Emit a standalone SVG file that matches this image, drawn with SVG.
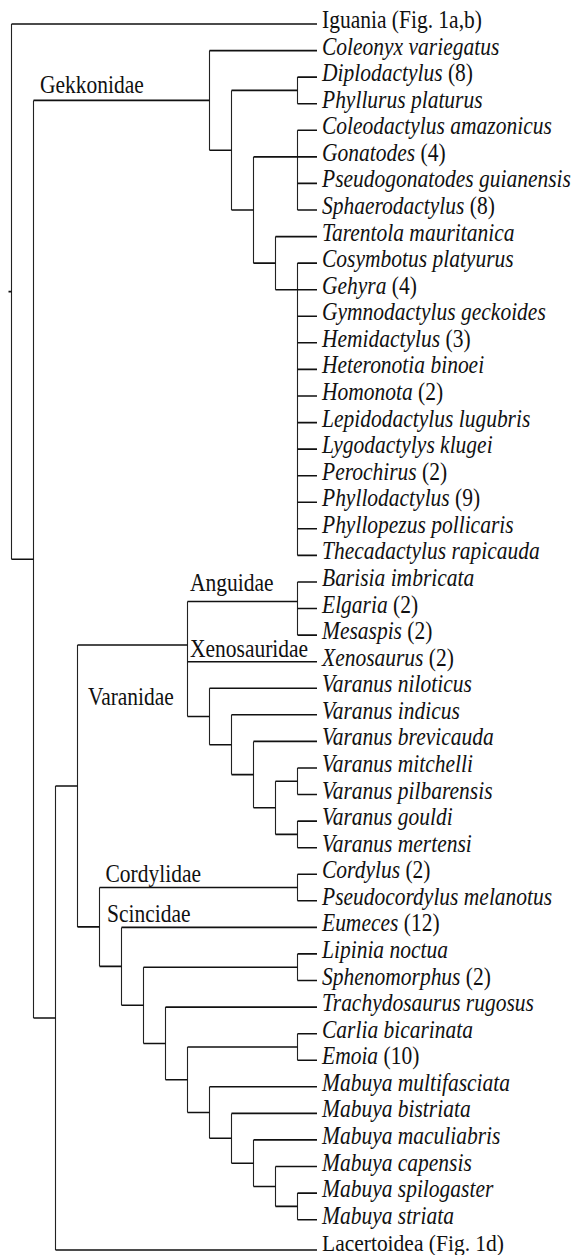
<svg xmlns="http://www.w3.org/2000/svg" width="574" height="1255" viewBox="0 0 574 1255">
<style>
.h{stroke:#111;stroke-width:1.6;fill:none}
.v{stroke:#222;stroke-width:1.1;fill:none}
text{font-family:"Liberation Serif","Times New Roman",serif;font-size:21.5px;fill:#111}
.sp{font-style:italic}
.n{font-style:normal}
</style>
<rect width="574" height="1255" fill="#fff"/>
<g id="connectors">
<path class="v" d="M11.5,24V559.2 M33.5,100.4V1018 M209.5,50.6V150.2 M231.5,90.4V210 M297.5,77.1V103.7 M253.5,156.9V263.15 M297.5,130.3V210 M275.5,236.6V289.7 M297.5,263.1V555.4 M55.5,786V1250 M77.5,645V926.9 M187.5,601.5V716.5 M297.5,582V635.1 M209.5,688.3V744.7 M231.5,714.8V774.6 M253.5,741.4V807.8 M275.5,781.25V834.4 M297.5,768V794.5 M297.5,821.1V847.7 M99.5,887.5V966.35 M297.5,874.2V900.8 M121.5,927.4V1005.3 M143.5,967.2V1043.45 M297.5,953.9V980.5 M165.5,1007.1V1079.8 M187.5,1047V1112.55 M297.5,1033.7V1060.2 M209.5,1086.8V1138.3 M231.5,1113.4V1163.2 M253.5,1139.9V1186.45 M275.5,1166.5V1206.4 M297.5,1193.1V1219.7"/>
<path class="h" d="M8.5,291.6H11.5 M11.5,24H317 M11.5,559.2H33.5 M33.5,100.4H209.5 M33.5,1018H55.5 M209.5,50.6H317 M209.5,150.2H231.5 M231.5,90.4H297.5 M231.5,210H253.5 M297.5,77.1H317 M297.5,103.7H317 M253.5,156.9H317 M253.5,263.15H275.5 M297.5,130.3H317 M297.5,183.4H317 M297.5,210H317 M275.5,236.6H317 M275.5,289.7H317 M297.5,263.1H317 M297.5,316.3H317 M297.5,342.8H317 M297.5,369.4H317 M297.5,396H317 M297.5,422.6H317 M297.5,449.1H317 M297.5,475.7H317 M297.5,502.3H317 M297.5,528.8H317 M297.5,555.4H317 M55.5,786H77.5 M55.5,1250H317 M77.5,645H187.5 M77.5,926.9H99.5 M187.5,601.5H297.5 M187.5,661.7H317 M187.5,716.5H209.5 M297.5,582H317 M297.5,608.5H317 M297.5,635.1H317 M209.5,688.3H317 M209.5,744.7H231.5 M231.5,714.8H317 M231.5,774.6H253.5 M253.5,741.4H317 M253.5,807.8H275.5 M275.5,781.25H297.5 M275.5,834.4H297.5 M297.5,768H317 M297.5,794.5H317 M297.5,821.1H317 M297.5,847.7H317 M99.5,887.5H297.5 M99.5,966.35H121.5 M297.5,874.2H317 M297.5,900.8H317 M121.5,927.4H317 M121.5,1005.3H143.5 M143.5,967.2H297.5 M143.5,1043.45H165.5 M297.5,953.9H317 M297.5,980.5H317 M165.5,1007.1H317 M165.5,1079.8H187.5 M187.5,1047H297.5 M187.5,1112.55H209.5 M297.5,1033.7H317 M297.5,1060.2H317 M209.5,1086.8H317 M209.5,1138.3H231.5 M231.5,1113.4H317 M231.5,1163.2H253.5 M253.5,1139.9H317 M253.5,1186.45H275.5 M275.5,1166.5H317 M275.5,1206.4H297.5 M297.5,1193.1H317 M297.5,1219.7H317"/>
</g>
<g id="clade-labels">
<g id="lbl-gekkonidae"><text transform="translate(40 93) scale(1 1.15)">Gekkonidae</text></g>
<g id="lbl-anguidae"><text transform="translate(190 591) scale(1 1.15)">Anguidae</text></g>
<g id="lbl-xenosauridae"><text transform="translate(190 657) scale(1 1.15)">Xenosauridae</text></g>
<g id="lbl-varanidae"><text transform="translate(88 705) scale(1 1.15)">Varanidae</text></g>
<g id="lbl-cordylidae"><text transform="translate(105.5 881.5) scale(1 1.15)">Cordylidae</text></g>
<g id="lbl-scincidae"><text transform="translate(107 922) scale(1 1.15)">Scincidae</text></g>
</g>
<g id="leaves">
<g id="leaf-iguania"><text transform="translate(322 28) scale(1 1.15)">Iguania (Fig. 1a,b)</text></g>
<g id="leaf-coleonyx"><text class="sp" transform="translate(322 54.6) scale(1 1.15)">Coleonyx variegatus</text></g>
<g id="leaf-diplodactylus"><text transform="translate(322 81.1) scale(1 1.15)"><tspan class="sp">Diplodactylus</tspan> (8)</text></g>
<g id="leaf-phyllurus"><text class="sp" transform="translate(322 107.7) scale(1 1.15)">Phyllurus platurus</text></g>
<g id="leaf-coleodactylus"><text class="sp" transform="translate(322 134.3) scale(1 1.15)">Coleodactylus amazonicus</text></g>
<g id="leaf-gonatodes"><text transform="translate(322 160.9) scale(1 1.15)"><tspan class="sp">Gonatodes</tspan> (4)</text></g>
<g id="leaf-pseudogonatodes"><text class="sp" transform="translate(322 187.4) scale(1 1.15)">Pseudogonatodes guianensis</text></g>
<g id="leaf-sphaerodactylus"><text transform="translate(322 214) scale(1 1.15)"><tspan class="sp">Sphaerodactylus</tspan> (8)</text></g>
<g id="leaf-tarentola"><text class="sp" transform="translate(322 240.6) scale(1 1.15)">Tarentola mauritanica</text></g>
<g id="leaf-cosymbotus"><text class="sp" transform="translate(322 267.1) scale(1 1.15)">Cosymbotus platyurus</text></g>
<g id="leaf-gehyra"><text transform="translate(322 293.7) scale(1 1.15)"><tspan class="sp">Gehyra</tspan> (4)</text></g>
<g id="leaf-gymnodactylus"><text class="sp" transform="translate(322 320.3) scale(1 1.15)">Gymnodactylus geckoides</text></g>
<g id="leaf-hemidactylus"><text transform="translate(322 346.8) scale(1 1.15)"><tspan class="sp">Hemidactylus</tspan> (3)</text></g>
<g id="leaf-heteronotia"><text class="sp" transform="translate(322 373.4) scale(1 1.15)">Heteronotia binoei</text></g>
<g id="leaf-homonota"><text transform="translate(322 400) scale(1 1.15)"><tspan class="sp">Homonota</tspan> (2)</text></g>
<g id="leaf-lepidodactylus"><text class="sp" transform="translate(322 426.6) scale(1 1.15)">Lepidodactylus lugubris</text></g>
<g id="leaf-lygodactylys"><text class="sp" transform="translate(322 453.1) scale(1 1.15)">Lygodactylys klugei</text></g>
<g id="leaf-perochirus"><text transform="translate(322 479.7) scale(1 1.15)"><tspan class="sp">Perochirus</tspan> (2)</text></g>
<g id="leaf-phyllodactylus"><text transform="translate(322 506.3) scale(1 1.15)"><tspan class="sp">Phyllodactylus</tspan> (9)</text></g>
<g id="leaf-phyllopezus"><text class="sp" transform="translate(322 532.8) scale(1 1.15)">Phyllopezus pollicaris</text></g>
<g id="leaf-thecadactylus"><text class="sp" transform="translate(322 559.4) scale(1 1.15)">Thecadactylus rapicauda</text></g>
<g id="leaf-barisia"><text class="sp" transform="translate(322 586) scale(1 1.15)">Barisia imbricata</text></g>
<g id="leaf-elgaria"><text transform="translate(322 612.5) scale(1 1.15)"><tspan class="sp">Elgaria</tspan> (2)</text></g>
<g id="leaf-mesaspis"><text transform="translate(322 639.1) scale(1 1.15)"><tspan class="sp">Mesaspis</tspan> (2)</text></g>
<g id="leaf-xenosaurus"><text transform="translate(322 665.7) scale(1 1.15)"><tspan class="sp">Xenosaurus</tspan> (2)</text></g>
<g id="leaf-v-niloticus"><text class="sp" transform="translate(322 692.3) scale(1 1.15)">Varanus niloticus</text></g>
<g id="leaf-v-indicus"><text class="sp" transform="translate(322 718.8) scale(1 1.15)">Varanus indicus</text></g>
<g id="leaf-v-brevicauda"><text class="sp" transform="translate(322 745.4) scale(1 1.15)">Varanus brevicauda</text></g>
<g id="leaf-v-mitchelli"><text class="sp" transform="translate(322 772) scale(1 1.15)">Varanus mitchelli</text></g>
<g id="leaf-v-pilbarensis"><text class="sp" transform="translate(322 798.5) scale(1 1.15)">Varanus pilbarensis</text></g>
<g id="leaf-v-gouldi"><text class="sp" transform="translate(322 825.1) scale(1 1.15)">Varanus gouldi</text></g>
<g id="leaf-v-mertensi"><text class="sp" transform="translate(322 851.7) scale(1 1.15)">Varanus mertensi</text></g>
<g id="leaf-cordylus"><text transform="translate(322 878.2) scale(1 1.15)"><tspan class="sp">Cordylus</tspan> (2)</text></g>
<g id="leaf-pseudocordylus"><text class="sp" transform="translate(322 904.8) scale(1 1.15)">Pseudocordylus melanotus</text></g>
<g id="leaf-eumeces"><text transform="translate(322 931.4) scale(1 1.15)"><tspan class="sp">Eumeces</tspan> (12)</text></g>
<g id="leaf-lipinia"><text class="sp" transform="translate(322 957.9) scale(1 1.15)">Lipinia noctua</text></g>
<g id="leaf-sphenomorphus"><text transform="translate(322 984.5) scale(1 1.15)"><tspan class="sp">Sphenomorphus</tspan> (2)</text></g>
<g id="leaf-trachydosaurus"><text class="sp" transform="translate(322 1011.1) scale(1 1.15)">Trachydosaurus rugosus</text></g>
<g id="leaf-carlia"><text class="sp" transform="translate(322 1037.7) scale(1 1.15)">Carlia bicarinata</text></g>
<g id="leaf-emoia"><text transform="translate(322 1064.2) scale(1 1.15)"><tspan class="sp">Emoia</tspan> (10)</text></g>
<g id="leaf-m-multifasciata"><text class="sp" transform="translate(322 1090.8) scale(1 1.15)">Mabuya multifasciata</text></g>
<g id="leaf-m-bistriata"><text class="sp" transform="translate(322 1117.4) scale(1 1.15)">Mabuya bistriata</text></g>
<g id="leaf-m-maculiabris"><text class="sp" transform="translate(322 1143.9) scale(1 1.15)">Mabuya maculiabris</text></g>
<g id="leaf-m-capensis"><text class="sp" transform="translate(322 1170.5) scale(1 1.15)">Mabuya capensis</text></g>
<g id="leaf-m-spilogaster"><text class="sp" transform="translate(322 1197.1) scale(1 1.15)">Mabuya spilogaster</text></g>
<g id="leaf-m-striata"><text class="sp" transform="translate(322 1223.7) scale(1 1.15)">Mabuya striata</text></g>
<g id="leaf-lacertoidea"><text transform="translate(322 1250.5) scale(1 1.1)">Lacertoidea (Fig. 1d)</text></g>
</g>
</svg>
